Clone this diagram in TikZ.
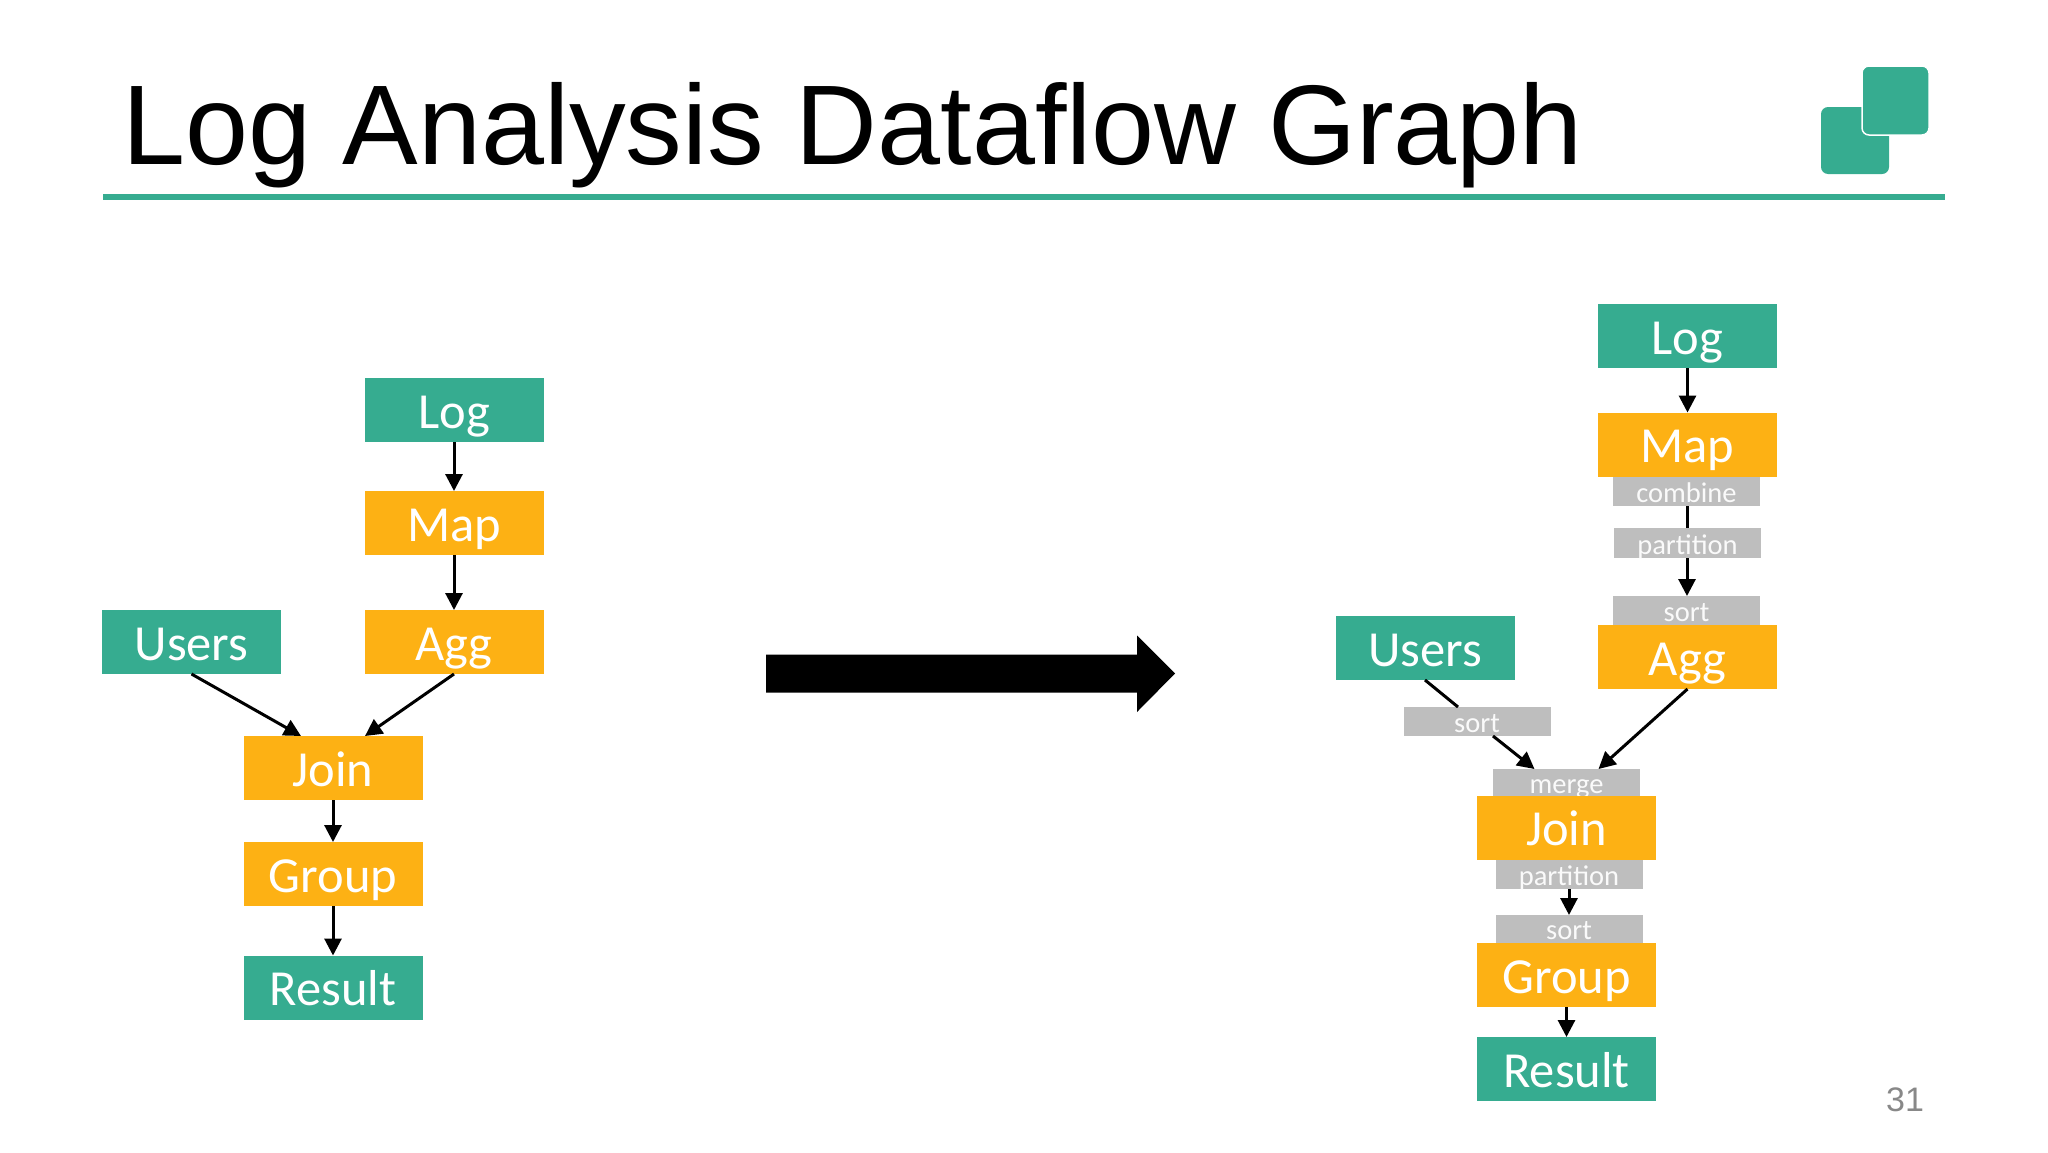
\documentclass[tikz,border=0pt]{standalone}
\usepackage{fontspec}
\setmainfont{Carlito}
\newfontfamily\titlefont{Liberation Sans}
\usetikzlibrary{arrows.meta,calc}
\definecolor{tealbox}{HTML}{36AC90}
\definecolor{ambox}{HTML}{FDB114}
\definecolor{greybox}{HTML}{BEBEBE}
\definecolor{pagenum}{HTML}{888888}
\tikzset{
  base/.style={inner sep=0pt,outer sep=0pt,text=white,align=center},
  bigbox/.style={base,minimum width=179pt,minimum height=64pt,text height=50pt,text depth=14pt,font=\fontsize{50.5}{50.5}\selectfont},
  teal/.style={fill=tealbox},
  amber/.style={fill=ambox},
  small/.style={base,fill=greybox,text=white!93!greybox,minimum width=147pt,minimum height=29pt,text height=25pt,text depth=4pt,font=\fontsize{28.5}{28.5}\selectfont},
  rarrow/.style={line width=3pt,-{Triangle[length=17pt,width=17pt]}},
  plainline/.style={line width=3pt},
  logo/.style={fill=tealbox,rounded corners=7pt},
}
\begin{document}
\begin{tikzpicture}[x=1pt,y=-1pt]
\useasboundingbox (0,0) rectangle (2048,1152);
% title
\node[anchor=base west,inner sep=0pt,font=\titlefont\fontsize{113.3}{113.3}\selectfont] (title) at (122,164) {Log Analysis Dataflow Graph};
\fill[tealbox] (103,194) rectangle (1945,200);
\fill[logo] (1821,107) rectangle (1889,174);
\fill[logo,draw=white,line width=1.5pt] (1862,66) rectangle (1929,135);
% left graph
\node[bigbox,teal]  (llog)  at (454,410) {Log};
\node[bigbox,amber] (lmap)  at (454,523) {Map};
\node[bigbox,amber] (lagg)  at (454,642) {Agg};
\node[bigbox,teal]  (lusers) at (191.5,642) {Users};
\node[bigbox,amber] (ljoin) at (333,768) {Join};
\node[bigbox,amber] (lgroup) at (333,874) {Group};
\node[bigbox,teal]  (lresult) at (333,987.5) {Result};
\draw[rarrow] (llog.south) -- (lmap.north);
\draw[rarrow] (lmap.south) -- (lagg.north);
\draw[rarrow] (lusers.south) -- ($(ljoin.north)+(-32,0)$);
\draw[rarrow] (lagg.south) -- ($(ljoin.north)+(32,0)$);
\draw[rarrow] (ljoin.south) -- (lgroup.north);
\draw[rarrow] (lgroup.south) -- (lresult.north);
% big arrow
\coordinate (bigstart) at (766,673.5);
\coordinate (bigtip) at (1175,673.5);
\fill (bigstart) ++(0,-19) -- ++(371,0) -- ++(0,-19) -- (bigtip) -- ++(-38,38.5) -- ++(0,-19.5) -- ++(-371,0) -- cycle;
% right graph
\node[bigbox,teal]  (rlog)  at (1687.5,336) {Log};
\node[bigbox,amber] (rmap)  at (1687.5,444.5) {Map};
\node[small] (rcomb) at (1686.5,491.5) {combine};
\node[small] (rsorta) at (1686.5,610.5) {sort};
\node[bigbox,amber] (ragg)  at (1687.5,657) {Agg};
\node[bigbox,teal]  (rusers) at (1425,648) {Users};
\node[small] (rsortb) at (1477,721.5) {sort};
\node[small,text height=24pt,text depth=3pt,minimum height=27pt] (rmerge) at (1566.5,782.5) {merge};
\node[bigbox,amber] (rjoin) at (1566.5,827.5) {Join};
\node[small] (rparta) at (1569,874.5) {partition};
\node[small,minimum height=28pt,text height=24pt,text depth=4pt] (rsortc) at (1569,929) {sort};
\node[bigbox,amber] (rgroup) at (1566.5,975) {Group};
\node[bigbox,teal]  (rresult) at (1566.5,1069) {Result};
\draw[rarrow] (rlog.south) -- (rmap.north);
\draw[rarrow] ($(rcomb.south)+(0.5,0)$) -- ($(rsorta.north)+(0.5,0)$);
\node[small,minimum height=30pt,text height=26pt,text depth=4pt] (rpartb) at (1687.5,543) {partition};
\draw[plainline] (rusers.south) -- ($(rsortb.north)+(-19,0)$);
\draw[rarrow] ($(rsortb.south)+(16,0)$) -- ($(rmerge.north)+(-32,0)$);
\draw[rarrow] (ragg.south) -- ($(rmerge.north)+(32,0)$);
\draw[rarrow] (rparta.south) -- (rsortc.north);
\draw[rarrow] (rgroup.south) -- (rresult.north);
% page number
\node[anchor=base,inner sep=0pt,text=pagenum,font=\titlefont\fontsize{34}{34}\selectfont] (page) at (1905,1111) {31};
\end{tikzpicture}
\end{document}
